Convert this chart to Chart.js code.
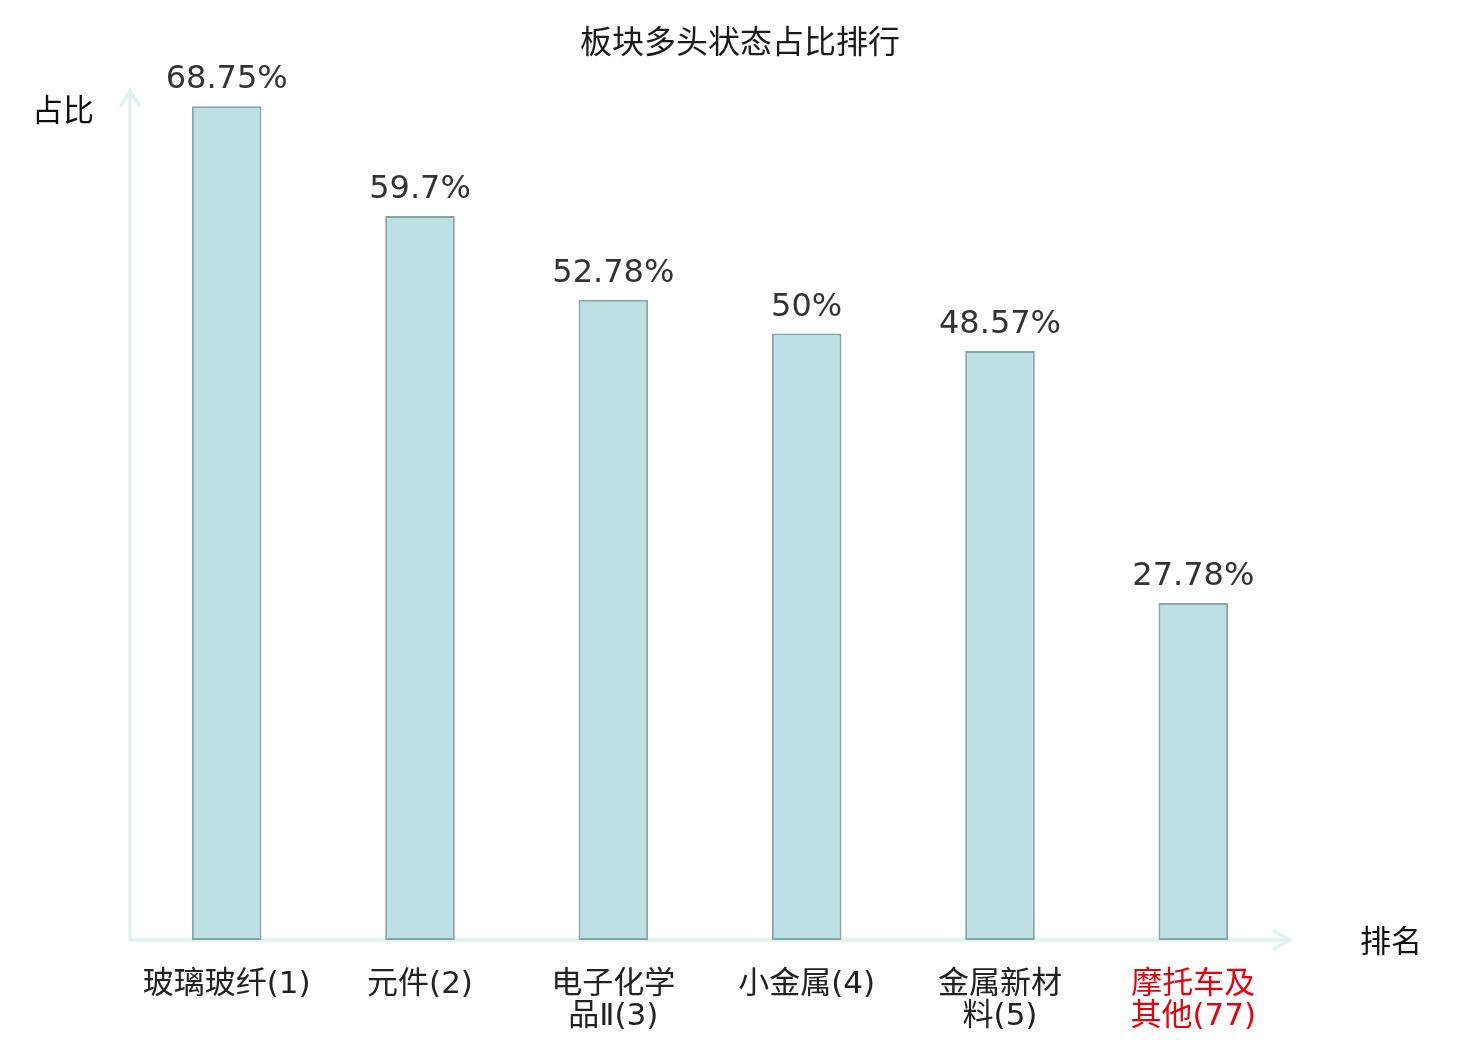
<!DOCTYPE html>
<html>
<head>
<meta charset="utf-8">
<script src="https://cdn.jsdelivr.net/npm/chart.js@4"></script>
<style>
html, body { margin:0; padding:0; background:#fff; }
#wrap { width:1480px; height:1040px; }
</style>
</head>
<body>
<div id="wrap"><canvas id="rankChart" width="1480" height="1040"></canvas></div>
<script>

/* DATA */

const categories = [
["玻璃玻纤(1)"],
["元件(2)"],
["电子化学", "品Ⅱ(3)"],
["小金属(4)"],
["金属新材", "料(5)"],
["摩托车及", "其他(77)"]
];

const ratios = [68.75, 59.7, 52.78, 50, 48.57, 27.78];

const ratioLabels = ["68.75%", "59.7%", "52.78%", "50%", "48.57%", "27.78%"];

const chartTitle = "板块多头状态占比排行";
const yAxisName = "占比";
const xAxisName = "排名";

const FONT = "'DejaVu Sans', 'Noto Sans CJK SC', sans-serif";
const AXIS_COLOR = "#dff2ef";


/* TEXT + ARROWS */

const decorPlugin = {
id: "decor",
beforeDatasetsDraw(chart){
const ctx = chart.ctx;
const a = chart.chartArea;
ctx.save();
ctx.strokeStyle = AXIS_COLOR;
ctx.lineWidth = 3.5;
ctx.lineCap = "round";
// y axis
ctx.beginPath();
ctx.moveTo(a.left, a.bottom);
ctx.lineTo(a.left, a.top);
ctx.moveTo(a.left - 9, a.top + 14);
ctx.lineTo(a.left, a.top);
ctx.lineTo(a.left + 9, a.top + 14);
// x axis
ctx.moveTo(a.left, a.bottom);
ctx.lineTo(a.right, a.bottom);
ctx.moveTo(a.right - 16, a.bottom - 9);
ctx.lineTo(a.right, a.bottom);
ctx.lineTo(a.right - 16, a.bottom + 9);
ctx.stroke();
ctx.restore();
},
afterDatasetsDraw(chart){
const ctx = chart.ctx;
ctx.save();
ctx.textAlign = "center";
ctx.textBaseline = "middle";

ctx.font = "32px " + FONT;
ctx.fillStyle = "#1a1a1a";
ctx.fillText(chartTitle, 740, 45);

ctx.font = "31px " + FONT;
ctx.fillStyle = "#111";
ctx.fillText(yAxisName, 63, 113);
ctx.fillText(xAxisName, 1391, 944);

ctx.font = "32px " + FONT;
ctx.fillStyle = "#333";
ctx.textBaseline = "alphabetic";
chart.getDatasetMeta(0).data.forEach((bar, i) => {
ctx.fillText(ratioLabels[i], bar.x, bar.y - 18);
});
ctx.restore();
}
};


/* BAR CHART */

function loadRankChart(){

const ctx = document.getElementById("rankChart");

if(!ctx) return;

new Chart(ctx,{

type:"bar",

data:{
labels:categories,
datasets:[{
data:ratios,
backgroundColor:"#bce0e3",
borderColor:"#88a4a5",
borderWidth:2,
borderSkipped:false,
barPercentage:0.72,
categoryPercentage:0.5
}]
},

options:{
responsive:false,
maintainAspectRatio:false,
animation:false,
layout:{ padding:{ left:130, right:190, top:91, bottom:0 } },
plugins:{
legend:{ display:false },
tooltip:{ enabled:false }
},
scales:{
x:{
grid:{ display:false, drawTicks:false },
border:{ display:false },
ticks:{
padding:29,
maxRotation:0,
autoSkip:false,
font:{ family:FONT, size:31, lineHeight:1.04 },
color:(c) => c.index === categories.length - 1 ? "#e8000b" : "#222"
},
afterFit:(s) => { s.height = 100; }
},
y:{
min:0,
max:70,
display:true,
grid:{ display:false, drawTicks:false },
border:{ display:false },
ticks:{ display:false },
afterFit:(s) => { s.width = 0; }
}
}
},

plugins:[decorPlugin]

});

}

loadRankChart();

</script>
</body>
</html>
